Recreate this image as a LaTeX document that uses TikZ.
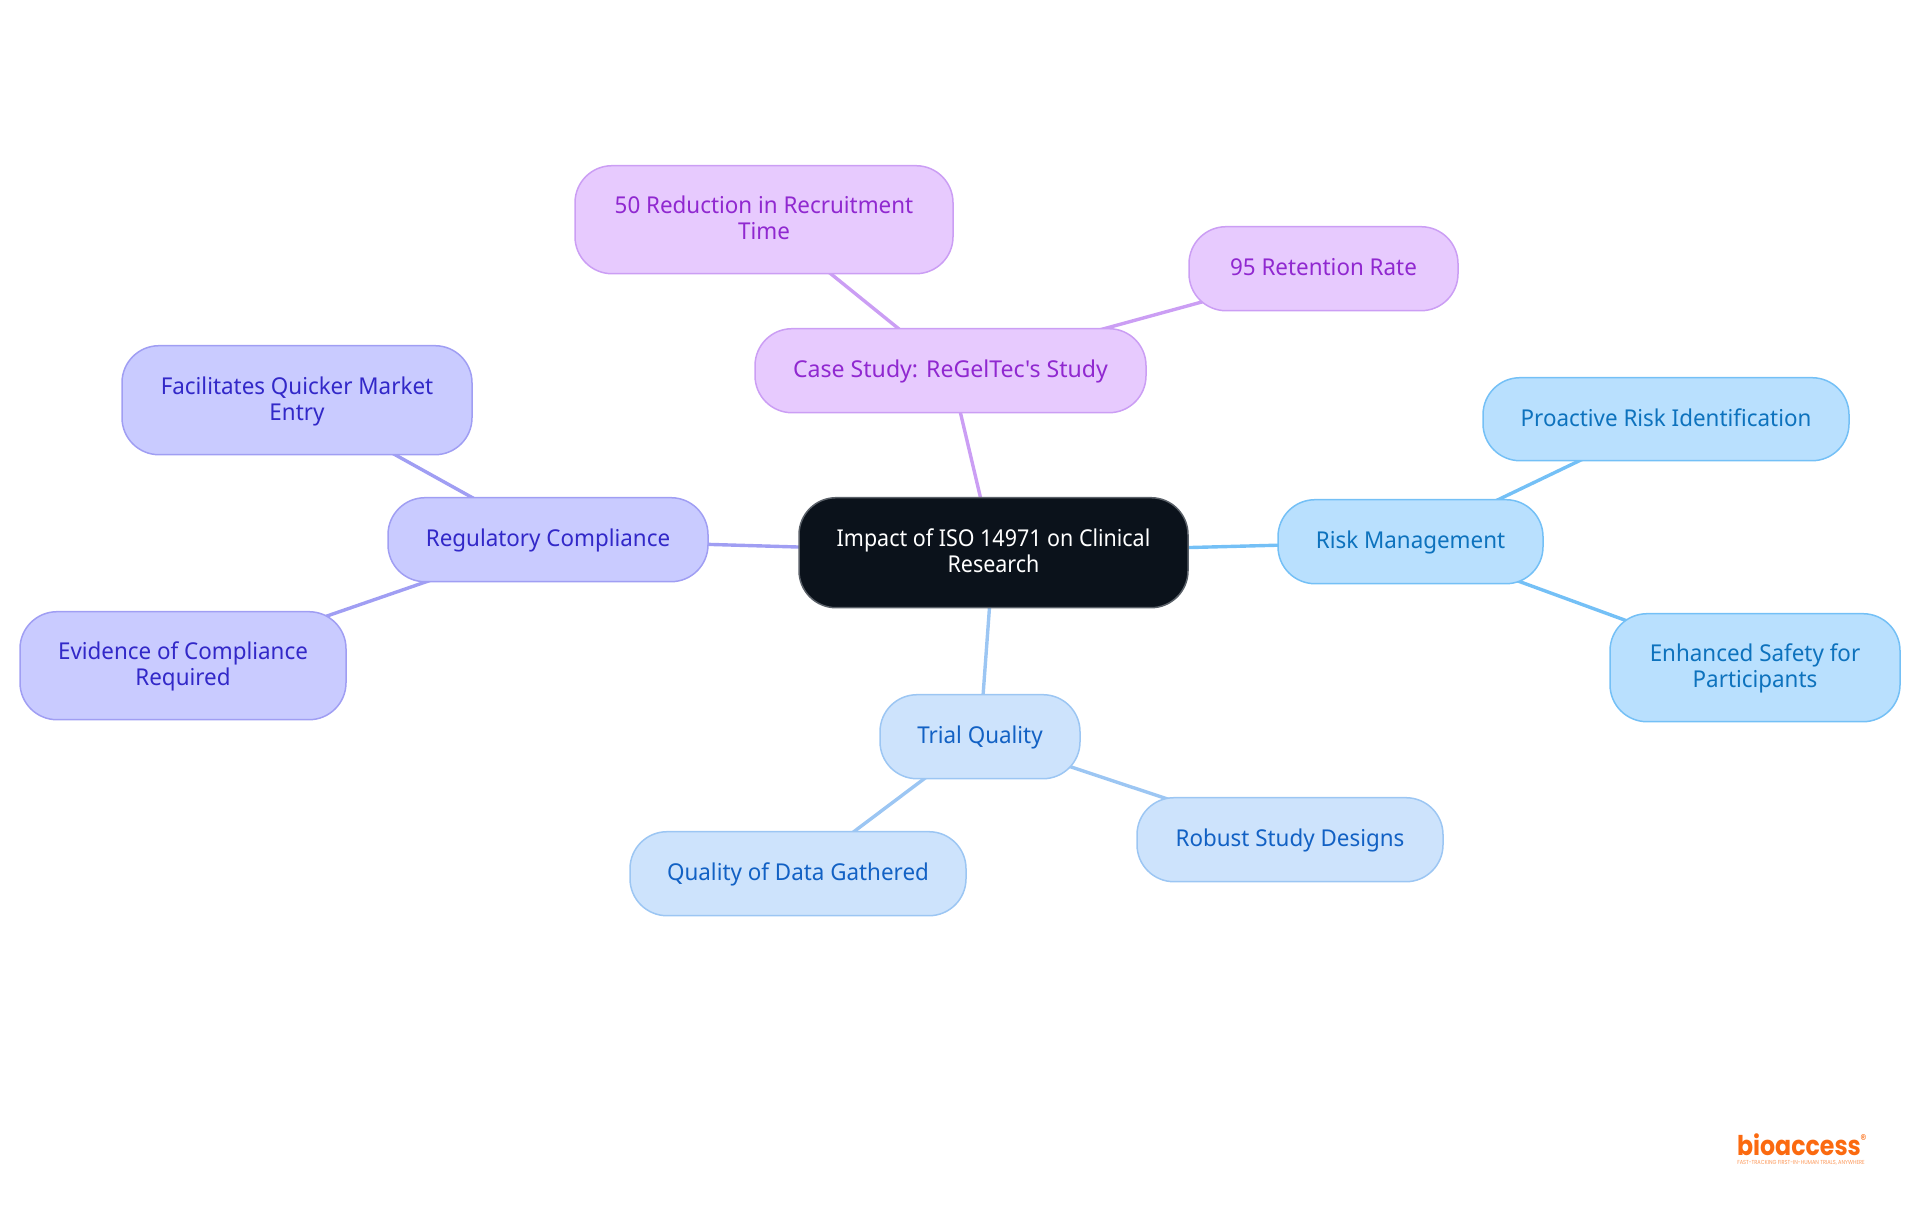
\documentclass[tikz,border=0pt]{standalone}
\usepackage{fontspec}
\setmainfont[FakeStretch=0.965]{Noto Sans}
\newfontfamily\rootfont[FakeStretch=0.925]{Noto Sans}
\newfontfamily\casefont[FakeStretch=0.995]{Noto Sans}
\newfontfamily\logofont[FakeStretch=0.87]{Poppins}
\usetikzlibrary{backgrounds}
\definecolor{cdark}{HTML}{0B121B}
\definecolor{cdarkb}{HTML}{5A6068}
\definecolor{rfill}{HTML}{B9E0FE}\definecolor{rline}{HTML}{74C0F6}\definecolor{rtext}{HTML}{0D72BD}
\definecolor{tfill}{HTML}{CDE3FC}\definecolor{tline}{HTML}{9CC6F3}\definecolor{ttext}{HTML}{1261C4}
\definecolor{gfill}{HTML}{C9CBFF}\definecolor{gline}{HTML}{A09EF3}\definecolor{gtext}{HTML}{3228C8}
\definecolor{cfill}{HTML}{E7CAFE}\definecolor{cline}{HTML}{CB9EF4}\definecolor{ctext}{HTML}{9028D0}
\definecolor{logoc}{HTML}{FB6A10}
\tikzset{
  x=0.5pt,y=-0.5pt,
  base/.style={draw,line width=0.75pt,rounded corners=18.5pt,inner sep=0pt,align=center,font=\fontsize{11.6}{12.85}\selectfont},
  rootbox/.style={base,fill=cdark,draw=cdarkb,text=white,font=\rootfont\fontsize{11.6}{12.85}\selectfont},
  riskbox/.style={base,fill=rfill,draw=rline,text=rtext},
  trialbox/.style={base,fill=tfill,draw=tline,text=ttext},
  regbox/.style={base,fill=gfill,draw=gline,text=gtext},
  casebox/.style={base,fill=cfill,draw=cline,text=ctext},
  rlink/.style={line width=1.7pt,draw=rline},
  tlink/.style={line width=1.7pt,draw=tline},
  glink/.style={line width=1.7pt,draw=gline},
  clink/.style={line width=1.7pt,draw=cline},
}
\newcommand{\stt}{\rule{0pt}{10pt}}
\newcommand{\stb}{\rule[-3pt]{0pt}{3pt}}
\newcommand{\bx}[8]{\node[#1,minimum width=#5*0.5pt-#4*0.5pt,minimum height=#7*0.5pt-#6*0.5pt] (#2) at ({(#4+#5)/2},{(#6+#7)/2+0.7}) {\stt #8\stb};}
\begin{document}
\begin{tikzpicture}
\useasboundingbox (0,0) rectangle (1920,1215);
\bx{rootbox}{root}{}{799}{1188}{497}{607}{Impact of ISO 14971 on Clinical\\Research}
\bx{riskbox}{risk}{}{1278}{1543}{499}{583}{Risk Management}
\bx{riskbox}{pro}{}{1483}{1849}{377}{460}{Proactive Risk Identification}
\bx{riskbox}{safe}{}{1610}{1900}{613}{721}{Enhanced Safety for\\Participants}
\bx{trialbox}{trial}{}{880}{1080}{694}{778}{Trial Quality}
\bx{trialbox}{robust}{}{1137}{1443}{797}{881}{Robust Study Designs}
\bx{trialbox}{qual}{}{630}{966}{831}{915}{Quality of Data Gathered}
\bx{regbox}{reg}{}{388}{708}{497}{581}{Regulatory Compliance}
\bx{regbox}{fac}{}{122}{472}{345}{454}{Facilitates Quicker Market\\Entry}
\bx{regbox}{evi}{}{20}{346}{611}{719}{Evidence of Compliance\\Required}
\bx{casebox,font=\casefont\fontsize{11.6}{12.85}\selectfont}{case}{}{755}{1146}{328}{412}{Case Study: ReGelTec's Study}
\bx{casebox}{fifty}{}{575}{953}{165}{273}{50 Reduction in Recruitment\\Time}
\bx{casebox}{nine}{}{1189}{1458}{226}{310}{95 Retention Rate}
\begin{scope}[on background layer]
\draw[rlink] (root.center) -- (risk.center);
\draw[rlink] (risk.center) -- (pro.center);
\draw[rlink] (risk.center) -- (safe.center);
\draw[tlink] (root.center) -- (trial.center);
\draw[tlink] (trial.center) -- (robust.center);
\draw[tlink] (trial.center) -- (qual.center);
\draw[glink] (root.center) -- (reg.center);
\draw[glink] (reg.center) -- (fac.center);
\draw[glink] (reg.center) -- (evi.center);
\draw[clink] (root.center) -- (case.center);
\draw[clink] (case.center) -- (fifty.center);
\draw[clink] (case.center) -- (nine.center);
\end{scope}
\node[inner sep=0pt,text=logoc,font=\logofont\bfseries\fontsize{13.6}{15}\selectfont,anchor=base] (logo) at (1799,1155) {bioaccess};
\node[inner sep=0pt,text=logoc,font=\logofont\fontsize{7}{8}\selectfont,anchor=west] (regmark) at (1860,1140) {®};
\node[inner sep=0pt,text=logoc!70,font=\logofont\fontsize{2.9}{3}\selectfont] (tag) at (1801,1163) {FAST-TRACKING FIRST-IN-HUMAN TRIALS, ANYWHERE};
\end{tikzpicture}
\end{document}
